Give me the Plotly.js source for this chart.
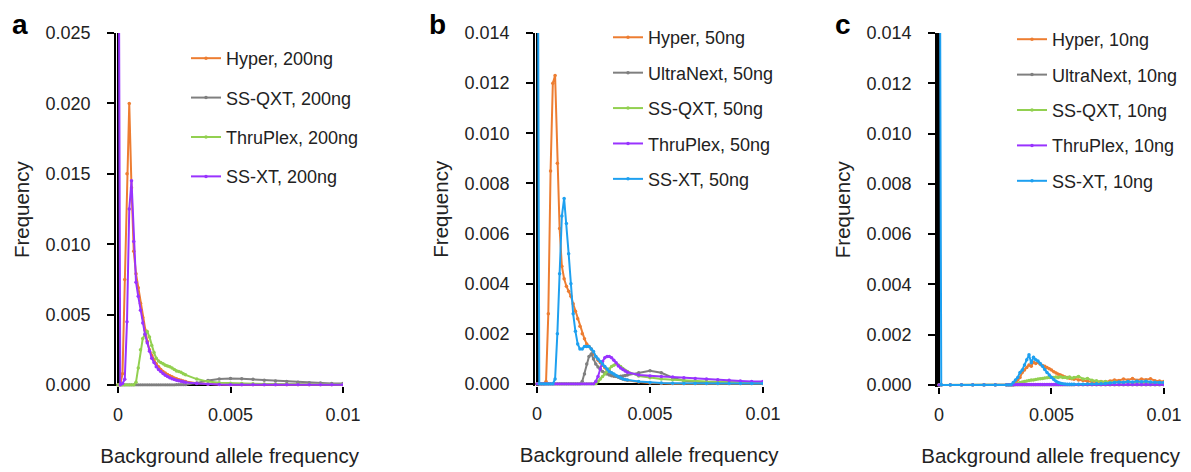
<!DOCTYPE html>
<html><head><meta charset="utf-8">
<script src="https://cdn.plot.ly/plotly-3.0.1.min.js"></script>
<style>html,body{margin:0;padding:0;background:#fff}#chart{width:1191px;height:472px}</style>
</head><body><div id="chart"></div>
<script>
// ---------- Panel a (200ng) ----------
const xA = [0,0.0001,0.0002,0.0003,0.0004,0.0005,0.0006,0.0007,0.0008,0.0009,0.001,0.0011,0.0012,0.0013,0.0014,0.0015,0.0016,0.0017,0.0018,0.0019,0.002,0.0021,0.0022,0.0023,0.0024,0.0025,0.0026,0.0027,0.0028,0.0029,0.003,0.0035,0.004,0.0045,0.005,0.0055,0.006,0.0065,0.007,0.0075,0.008,0.0085,0.009,0.0095,0.01];
const hyper200 = [0,0,0.0008,0.0075,0.0150,0.0200,0.0140,0.0095,0.0079,0.0069,0.0058,0.0048,0.0039,0.0031,0.0025,0.0021,0.0018,0.0015,0.0013,0.0011,0.00095,0.00085,0.00075,0.00066,0.00058,0.0005,0.00044,0.00038,0.00033,0.00029,0.00025,0.00012,0.00006,0.00003,0.00002,0.00001,0.00001,0.00001,0.00001,0.00001,0.00001,0.00001,0.00001,0.00001,0.00001];
const ssqxt200 = [0,0,0,0,0,0,0,0,0,0,0,0,0,0,0,0,0,0,0,0,0,0,0,0,0,0,0.00001,0.00001,0.00001,0.00001,0.00001,0.00015,0.00032,0.00042,0.00046,0.00044,0.0004,0.00034,0.00029,0.00024,0.0002,0.00016,0.00014,0.00011,0.0001];
const thruplex200 = [0,0,0,0,0,0,0,0,0.0002,0.0012,0.0025,0.0033,0.0036,0.0038,0.0034,0.0028,0.0023,0.0019,0.0017,0.0016,0.0015,0.0014,0.00135,0.0013,0.0012,0.0011,0.001,0.00095,0.0009,0.0008,0.00072,0.00042,0.00024,0.00016,0.00012,0.0001,0.00008,0.00007,0.00006,0.00005,0.00005,0.00004,0.00004,0.00003,0.00003];
const ssxt200 = [0.05,0,0.0001,0.0004,0.0045,0.0125,0.0145,0.0102,0.0073,0.0063,0.0053,0.0044,0.0036,0.0030,0.0024,0.0019,0.0016,0.0013,0.0011,0.00095,0.00082,0.0007,0.0006,0.00052,0.00045,0.00039,0.00034,0.0003,0.00026,0.00023,0.0002,0.0001,0.00005,0.00003,0.00002,0.00001,0.00001,0.00001,0.00001,0.00001,0.00001,0.00001,0.00001,0.00001,0.00001];

// ---------- Panel b (50ng) ----------
const xB = [0,0.0001,0.0002,0.0003,0.0004,0.0005,0.0006,0.0007,0.0008,0.0009,0.001,0.0011,0.0012,0.0013,0.0014,0.0015,0.0016,0.0017,0.0018,0.0019,0.002,0.0021,0.0022,0.0023,0.0024,0.0025,0.0026,0.0027,0.0028,0.0029,0.003,0.0031,0.0032,0.0033,0.0034,0.0035,0.0036,0.0037,0.0038,0.0039,0.004,0.0045,0.005,0.0055,0.006,0.0065,0.007,0.0075,0.008,0.0085,0.009,0.0095,0.01];
const hyper50 = [0,0,0,0,0.0001,0.0028,0.0085,0.0120,0.0123,0.0088,0.0062,0.0047,0.0042,0.0039,0.0037,0.0035,0.0032,0.0029,0.0026,0.0023,0.0020,0.0018,0.0016,0.0015,0.0014,0.0012,0.0011,0.00095,0.00085,0.00075,0.00065,0.00056,0.0005,0.00043,0.00037,0.00032,0.00027,0.00023,0.0002,0.00017,0.00015,0.00008,0.00004,0.00002,0.00001,0.00001,0.00001,0.00001,0.00001,0.00001,0.00001,0.00001,0.00001];
const ultranext50 = [0,0,0,0,0,0,0,0,0,0,0,0,0,0,0,0,0,0,0,0,0.0001,0.0004,0.0008,0.0011,0.0012,0.0010,0.0008,0.00068,0.00058,0.0005,0.00044,0.0004,0.00036,0.00033,0.00031,0.0003,0.0003,0.00031,0.00032,0.00034,0.00036,0.00045,0.00053,0.00045,0.00025,0.00013,0.00008,0.00006,0.00005,0.00004,0.00003,0.00003,0.00003];
const ssqxt50 = [0,0,0,0,0,0,0,0,0,0,0,0,0,0,0,0,0,0,0,0,0,0,0,0,0,0,0,0.0001,0.0002,0.0003,0.0004,0.0005,0.0006,0.0007,0.00075,0.0008,0.00076,0.0007,0.00062,0.00055,0.0005,0.00032,0.00025,0.0002,0.00017,0.00014,0.00012,0.0001,0.00009,0.00008,0.00007,0.00006,0.00005];
const thruplex50 = [0,0,0,0,0,0,0,0,0,0,0,0,0,0,0,0,0,0,0,0,0,0,0,0,0,0,0.0001,0.0003,0.0006,0.0009,0.00105,0.0011,0.0011,0.00105,0.00095,0.00085,0.00072,0.00064,0.00058,0.00052,0.00047,0.00036,0.00032,0.0003,0.00028,0.00025,0.00022,0.0002,0.00017,0.00015,0.00012,0.0001,0.0001];
const ssxt50 = [0.03,0,0,0,0,0,0,0,0.0002,0.002,0.0044,0.0067,0.0074,0.0064,0.0052,0.004,0.0028,0.0021,0.0016,0.0014,0.0014,0.0015,0.0015,0.0015,0.0014,0.0013,0.0011,0.001,0.0009,0.0008,0.0007,0.0006,0.0005,0.00045,0.0004,0.00034,0.00028,0.00024,0.0002,0.00018,0.00016,0.0001,0.00006,0.00004,0.00003,0.00002,0.00002,0.00002,0.00002,0.00002,0.00002,0.00002,0.00002];

// ---------- Panel c (10ng) ----------
const xC = [0,0.0001,0.0005,0.001,0.0015,0.002,0.0025,0.003,0.0031,0.0032,0.0033,0.0034,0.0035,0.0036,0.0037,0.0038,0.0039,0.004,0.0041,0.0042,0.0043,0.0044,0.0045,0.0046,0.0047,0.0048,0.0049,0.005,0.0051,0.0052,0.0053,0.0054,0.0055,0.0056,0.0057,0.0058,0.0059,0.006,0.0062,0.0064,0.0066,0.0068,0.007,0.0072,0.0074,0.0076,0.0078,0.008,0.0082,0.0084,0.0086,0.0088,0.009,0.0092,0.0094,0.0096,0.0098,0.01];
const hyper10 = [0,0,0,0,0,0,0,0,0,0,0,0.0001,0.0002,0.0003,0.0005,0.0006,0.0007,0.0008,0.00075,0.0009,0.00085,0.0009,0.00082,0.00078,0.00075,0.0007,0.00065,0.0006,0.00053,0.00048,0.00043,0.0004,0.00036,0.00032,0.0003,0.00027,0.00025,0.00023,0.0002,0.00018,0.00015,0.00013,0.00012,0.00014,0.00012,0.00016,0.0002,0.00018,0.00024,0.0002,0.00026,0.00019,0.00024,0.00021,0.00025,0.00017,0.00016,0.00014];
const ultranext10 = [0,0,0,0,0,0,0,0,0,0,0,0,0,0,0,0,0,0,0,0,0,0,0,0,0,0,0,0,0,0,0,0,0,0,0,0,0,0,0,0,0,0,0,0,0,0,0,0,0,0,0,0,0,0,0,0,0,0];
const ssqxt10 = [0,0,0,0,0,0,0,0,0,0,0,0.00003,0.00006,0.0001,0.00012,0.00014,0.00016,0.00018,0.0002,0.0002,0.00022,0.00024,0.00025,0.00026,0.00028,0.00029,0.0003,0.00031,0.0003,0.00032,0.0003,0.00033,0.0003,0.00031,0.00028,0.00032,0.00027,0.0003,0.00034,0.00024,0.00026,0.00019,0.00017,0.00013,0.00014,0.0001,0.00012,0.0001,0.00009,0.00011,0.00008,0.0001,0.00008,0.00009,0.00007,0.00008,0.00006,0.00006];
const thruplex10 = [0,0,0,0,0,0,0,0,0,0,0,0.00002,0.00002,0.00002,0.00002,0.00002,0.00002,0.00002,0.00002,0.00002,0.00002,0.00002,0.00002,0.00002,0.00002,0.00002,0.00002,0.00002,0.00002,0.00002,0.00002,0.00002,0.00002,0.00002,0.00002,0.00002,0.00002,0.00002,0.00002,0.00002,0.00002,0.00002,0.00002,0.00002,0.00002,0.00002,0.00002,0.00002,0.00002,0.00002,0.00002,0.00002,0.00002,0.00002,0.00002,0.00002,0.00002,0.00002];
const ssxt10 = [0.03,0,0,0,0,0,0,0,0,0,0.0001,0.0002,0.0003,0.0005,0.0006,0.0008,0.001,0.0012,0.00088,0.0011,0.001,0.00095,0.00085,0.00075,0.00062,0.0005,0.0004,0.0003,0.00022,0.00015,0.0001,0.00007,0.00005,0.00004,0.00003,0.00003,0.00003,0.00003,0.00003,0.00003,0.00004,0.00004,0.00005,0.00005,0.00006,0.00008,0.0001,0.00012,0.00011,0.00014,0.00012,0.00015,0.00013,0.00015,0.00012,0.00011,0.0001,0.0001];

// ---------- labels / ticks ----------
const xTickVals = [0, 0.005, 0.01];
const xTickText = ['0', '0.005', '0.01'];
const yTicksA = [0, 0.005, 0.010, 0.015, 0.020, 0.025];
const yTicksBC = [0, 0.002, 0.004, 0.006, 0.008, 0.010, 0.012, 0.014];
const panelLetters = ['a', 'b', 'c'];
const xTitle = 'Background allele frequency';
const yTitle = 'Frequency';

const C = {orange:'#ED7D31', gray:'#7F7F7F', green:'#92D050', purple:'#9933FF', blue:'#1EA0F0'};
const FONT = 'Arial, Liberation Sans, sans-serif';

function tr(x, y, name, color, xa, ya, legend, grp) {
  return {type:'scatter', mode:'lines+markers', x:x, y:y, name:name,
    xaxis:xa, yaxis:ya, legend:legend, legendgroup:grp,
    line:{color:color, width:2}, marker:{color:color, size:3.5}};
}

const data = [
  tr(xA, hyper200, 'Hyper, 200ng', C.orange, 'x', 'y', 'legend', 'a1'),
  tr(xA, ssqxt200, 'SS-QXT, 200ng', C.gray, 'x', 'y', 'legend', 'a2'),
  tr(xA, thruplex200, 'ThruPlex, 200ng', C.green, 'x', 'y', 'legend', 'a3'),
  tr(xA, ssxt200, 'SS-XT, 200ng', C.purple, 'x', 'y', 'legend', 'a4'),
  tr(xB, hyper50, 'Hyper, 50ng', C.orange, 'x2', 'y2', 'legend2', 'b1'),
  tr(xB, ultranext50, 'UltraNext, 50ng', C.gray, 'x2', 'y2', 'legend2', 'b2'),
  tr(xB, ssqxt50, 'SS-QXT, 50ng', C.green, 'x2', 'y2', 'legend2', 'b3'),
  tr(xB, thruplex50, 'ThruPlex, 50ng', C.purple, 'x2', 'y2', 'legend2', 'b4'),
  tr(xB, ssxt50, 'SS-XT, 50ng', C.blue, 'x2', 'y2', 'legend2', 'b5'),
  tr(xC, hyper10, 'Hyper, 10ng', C.orange, 'x3', 'y3', 'legend3', 'c1'),
  tr(xC, ultranext10, 'UltraNext, 10ng', C.gray, 'x3', 'y3', 'legend3', 'c2'),
  tr(xC, ssqxt10, 'SS-QXT, 10ng', C.green, 'x3', 'y3', 'legend3', 'c3'),
  tr(xC, thruplex10, 'ThruPlex, 10ng', C.purple, 'x3', 'y3', 'legend3', 'c4'),
  tr(xC, ssxt10, 'SS-XT, 10ng', C.blue, 'x3', 'y3', 'legend3', 'c5')
];

function xax(domain, anchor) {
  return {domain:domain, anchor:anchor, range:[-0.00008, 0.01], tickvals:xTickVals, ticktext:xTickText,
    ticks:'outside', ticklen:6, tickwidth:2, tickcolor:'#000', showline:false,
    zeroline:true, zerolinecolor:'#000', zerolinewidth:2.5, showgrid:false,
    tickfont:{size:18, color:'#222'}, ticklabelstandoff:6,
    title:{text:xTitle, font:{size:20.5, color:'#222'}, standoff:24}};
}
function yax(domain, anchor, range, ticks) {
  return {domain:domain, anchor:anchor, range:range, tickvals:ticks, tickformat:'.3f',
    ticks:'outside', ticklen:7, tickwidth:2, tickcolor:'#000', showline:true, linewidth:2, linecolor:'#000',
    zeroline:true, zerolinecolor:'#000', zerolinewidth:1.5, showgrid:false,
    tickfont:{size:18, color:'#222'}, ticklabelstandoff:13,
    title:{text:yTitle, font:{size:20.5, color:'#222'}, standoff:10}};
}
function leg(x, y, gap) {
  return {x:x, y:y, xanchor:'left', yanchor:'top', bgcolor:'rgba(0,0,0,0)', borderwidth:0,
    font:{size:18, color:'#222'}, tracegroupgap:gap, traceorder:'grouped', itemwidth:30};
}

const layout = {
  width:1191, height:472, margin:{l:0, r:0, t:0, b:0},
  font:{family:FONT, color:'#222'}, showlegend:true,
  xaxis: xax([0.09757, 0.28799], 'y'),
  yaxis: yax([0.18136, 0.93008], 'x', [-0.0001, 0.025], yTicksA),
  xaxis2: xax([0.44937, 0.64064], 'y2'),
  yaxis2: yax([0.18326, 0.93008], 'x2', [-0.00006, 0.014], yTicksBC),
  xaxis3: xax([0.78690, 0.97733], 'y3'),
  yaxis3: yax([0.18114, 0.93008], 'x3', [-0.00006, 0.014], yTicksBC),
  legend: leg(0.15617, 0.9153, 13),
  legend2: leg(0.5105, 0.9596, 9),
  legend3: leg(0.8497, 0.9555, 9),
  annotations: [
    {text:'<b>'+panelLetters[0]+'</b>', x:0.01721, y:0.949, xref:'paper', yref:'paper', showarrow:false, xanchor:'center', yanchor:'middle', font:{size:28, color:'#000'}},
    {text:'<b>'+panelLetters[1]+'</b>', x:0.36734, y:0.949, xref:'paper', yref:'paper', showarrow:false, xanchor:'center', yanchor:'middle', font:{size:28, color:'#000'}},
    {text:'<b>'+panelLetters[2]+'</b>', x:0.70739, y:0.949, xref:'paper', yref:'paper', showarrow:false, xanchor:'center', yanchor:'middle', font:{size:28, color:'#000'}}
  ]
};

Plotly.newPlot('chart', data, layout, {displayModeBar:false});
</script></body></html>
